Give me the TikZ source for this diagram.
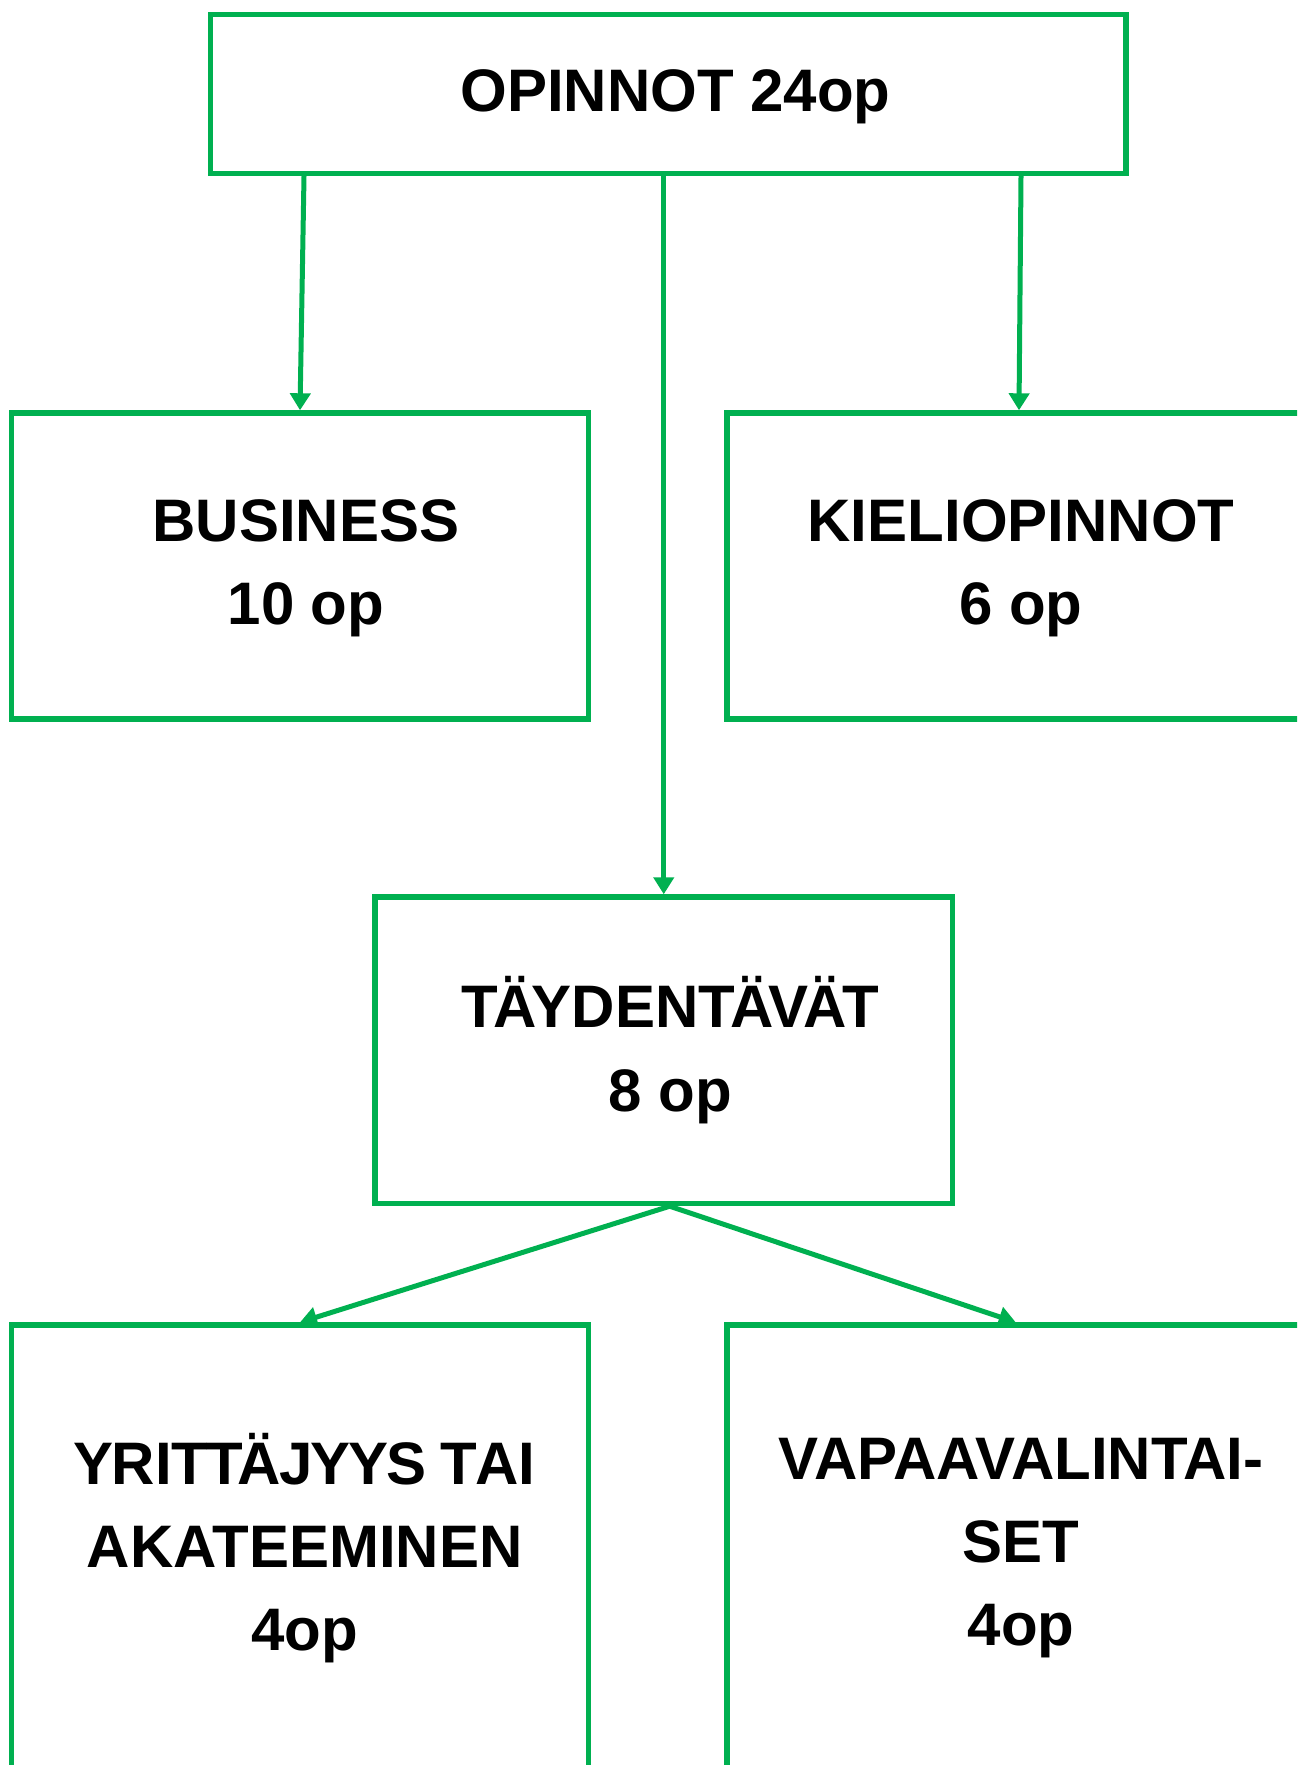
\documentclass[tikz,border=0pt]{standalone}
\usepackage{fontspec}
\setmainfont{Liberation Sans}
\usetikzlibrary{arrows.meta,calc}
\definecolor{ogreen}{RGB}{0,176,80}
\newcommand{\kA}{\kern-2.45pt}
\newcommand{\kB}{\kern-1.1pt}
\begin{document}
\begin{tikzpicture}[x=0.5pt,y=-0.5pt,
  box/.style={draw=ogreen, line width=2.7pt, rectangle, inner sep=0pt, fill=white},
  lbl/.style={font=\bfseries\fontsize{30}{41.6}\selectfont, align=center, inner sep=0pt},
  arr/.style={draw=ogreen, line width=2.5pt, -{Triangle[length=8.5pt,width=10pt]}}]
\useasboundingbox (0,0) rectangle (1297,1765);
\clip (0,0) rectangle (1297,1765);
% boxes
\node[box, minimum width=457.75pt, minimum height=79.4pt] (top) at (668.25,94) {};
\node[box, minimum width=288.75pt, minimum height=153pt] (busi) at (300,566) {};
\node[box, minimum width=288.75pt, minimum height=153pt] (kieli) at (1015.75,566) {};
\node[box, minimum width=288.75pt, minimum height=153.25pt] (taeyd) at (663.75,1050.25) {};
\node[box, minimum width=288.75pt, minimum height=250pt] (yrit) at (300,1575) {};
\node[box, minimum width=288.75pt, minimum height=250pt] (vapaa) at (1015.75,1575) {};
% labels
\node[lbl] (ttop) at (675.5,97) {OPINNOT 24op};
\node[lbl] (tbusi) at (306,568.5) {BUSINESS\\10 op};
\node[lbl] (tkieli) at (1021,568.5) {KIELIOPINNOT\\6 op};
\node[lbl] (ttaeyd) at (670.3,1050) {T\kA Ä\kA YDENT\kA Ä\kA V\kA Ä\kA T\\8 op};
\node[lbl] (tyrit) at (304.6,1548) {Y\kB RIT\kB T\kA Ä\kern-1pt J\kB Y\kB Y\kB S\kern-1.2pt{} T\kern-0.8pt AI\\AKATEEMINEN\\4op};
\node[lbl] (tvapaa) at (1021,1548) {VAPAAVALINTAI-\\SET\\4op};
% connectors
\draw[arr] ($(top.south)+(-364.25,0)$) -- (busi.north);
\draw[arr] ($(top.south)+(352.75,0)$) -- ($(kieli.north)+(3.25,0)$);
\draw[arr] (top.south -| taeyd.north) -- (taeyd.north);
\draw[arr] ($(taeyd.south)+(6,0)$) -- (yrit.north);
\draw[arr] ($(taeyd.south)+(6,0)$) -- (vapaa.north);
\end{tikzpicture}
\end{document}
